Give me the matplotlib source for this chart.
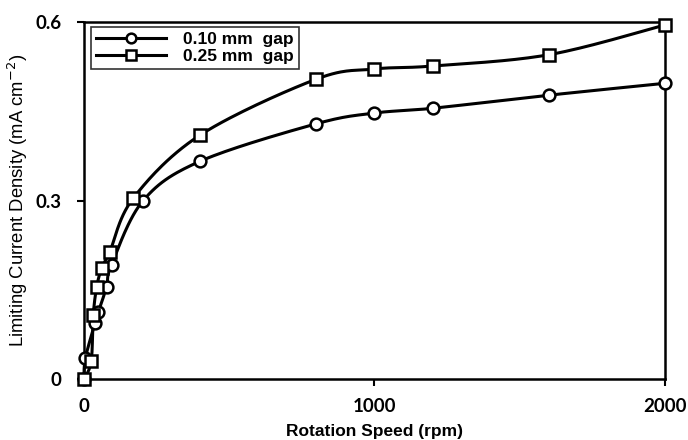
import numpy as np
import matplotlib
matplotlib.use("Agg")
import matplotlib.pyplot as plt

# 0.10 mm gap (circles)
rpm_010 = [0, 5, 38, 49, 78, 95, 204, 400, 800, 1000, 1200, 1600, 2000]
icd_010 = [0.0, 0.035, 0.094, 0.112, 0.155, 0.192, 0.300, 0.366, 0.429, 0.447, 0.455, 0.477, 0.497]

# 0.25 mm gap (squares)
rpm_025 = [0, 25, 32, 44, 61, 89, 170, 400, 800, 1000, 1200, 1600, 2000]
icd_025 = [0.0, 0.030, 0.107, 0.155, 0.186, 0.214, 0.304, 0.410, 0.504, 0.521, 0.526, 0.545, 0.595]

labels = ["0.10 mm  gap", "0.25 mm  gap"]


def smooth(x, y, n=30):
    # catmull-rom through the points, like excel's smoothed line
    x = np.asarray(x, float)
    y = np.asarray(y, float)
    px = np.concatenate([[x[0]], x, [x[-1]]])
    py = np.concatenate([[y[0]], y, [y[-1]]])
    xs, ys = [], []
    t = np.linspace(0, 1, n)
    for i in range(1, len(px) - 2):
        for p, out in ((px, xs), (py, ys)):
            p0, p1, p2, p3 = p[i - 1], p[i], p[i + 1], p[i + 2]
            out.extend(0.5 * ((2 * p1) + (-p0 + p2) * t
                              + (2 * p0 - 5 * p1 + 4 * p2 - p3) * t ** 2
                              + (-p0 + 3 * p1 - 3 * p2 + p3) * t ** 3))
    return np.array(xs), np.array(ys)


fig = plt.figure(figsize=(6.88, 4.4), dpi=100)
ax = fig.add_axes([0.122, 0.1386, 0.8446, 0.8114])

for (x, y, m, lab) in [(rpm_010, icd_010, "o", labels[0]), (rpm_025, icd_025, "s", labels[1])]:
    sx, sy = smooth(x, y)
    ax.plot(sx, sy, color="black", lw=2.2, zorder=2, clip_on=False)
    ax.plot(x, y, linestyle="none", marker=m, ms=8.5, mfc="white", mec="black", mew=1.8,
            zorder=3, clip_on=False)
    ax.plot([], [], color="black", lw=2.2, marker=m, ms=7, mfc="white", mec="black", mew=1.8, label=lab)

ax.set_xlim(0, 2000)
ax.set_ylim(0, 0.6)
ax.set_xticks([0, 1000, 2000])
ax.set_yticks([0, 0.3, 0.6])
ax.set_yticklabels(["0", "0.3", "0.6"])
for s in ax.spines.values():
    s.set_linewidth(1.8)
ax.tick_params(width=1.5, length=5, direction="out")
ax.tick_params(axis="x", pad=9)
ax.tick_params(axis="y", pad=11)
for lab in ax.get_xticklabels() + ax.get_yticklabels():
    lab.set_fontfamily("Lato")
    lab.set_fontweight("bold")
    lab.set_fontsize(13.5)

ax.set_xlabel("Rotation Speed (rpm)", fontfamily="Liberation Sans", fontweight="bold", fontsize=12.5, labelpad=6)
ax.set_ylabel("Limiting Current Density (mA cm$^{-2}$)", fontfamily="Liberation Sans", fontsize=13.3, labelpad=4)

leg = ax.legend(loc="upper left", bbox_to_anchor=(0.006, 0.997), borderaxespad=0.2, frameon=True,
                fancybox=False, edgecolor="black", handlelength=4.0, handletextpad=1.0, borderpad=0.3,
                labelspacing=0.1, prop={"family": "Liberation Sans", "weight": "bold", "size": 12.5})
leg.get_frame().set_linewidth(1.2)

fig.savefig("out.png", dpi=100)
